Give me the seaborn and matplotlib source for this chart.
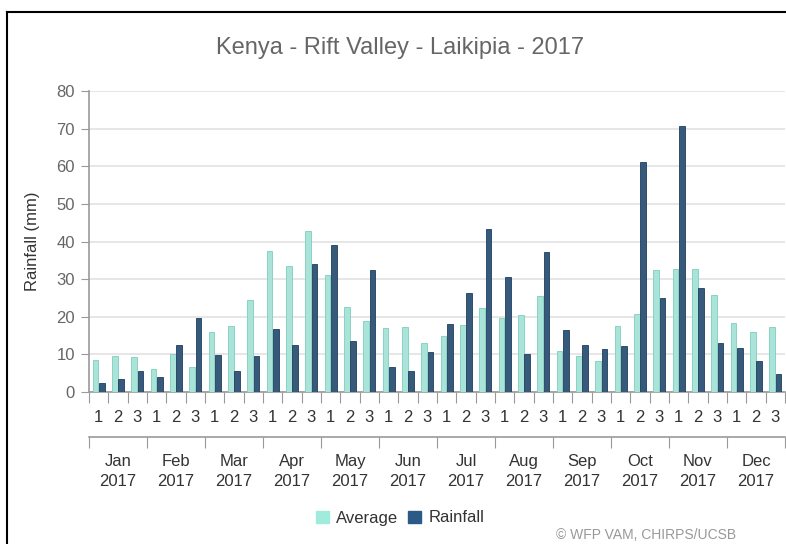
#!/usr/bin/env python
"""
  Laikipia dekadal rainfall vs long-term average, 2017
"""

import matplotlib
matplotlib.use('Agg')
import matplotlib.pyplot as plt
from matplotlib.lines import Line2D
from matplotlib.patches import Patch
import seaborn as sns
import pandas as pd

MONTHS = ["Jan", "Feb", "Mar", "Apr", "May", "Jun",
          "Jul", "Aug", "Sep", "Oct", "Nov", "Dec"]
DEKADS = ["1", "2", "3"]
YEAR = "2017"

# values (mm per dekad)
average = [8.5, 9.6, 9.2, 6.0, 10.1, 6.6, 16.0, 17.6, 24.5, 37.6, 33.5, 42.9,
           31.0, 22.7, 18.8, 17.0, 17.4, 13.1, 14.9, 17.9, 22.2, 19.7, 20.4, 25.6,
           10.8, 9.6, 8.3, 17.6, 20.7, 32.4, 32.6, 32.8, 25.7, 18.3, 16.0, 17.4]
rainfall = [2.5, 3.4, 5.7, 3.9, 12.4, 19.7, 9.8, 5.5, 9.6, 16.8, 12.4, 33.9,
            39.0, 13.5, 32.3, 6.6, 5.7, 10.6, 18.1, 26.4, 43.4, 30.5, 10.2, 37.1,
            16.5, 12.6, 11.5, 12.1, 61.2, 25.0, 70.6, 27.7, 13.1, 11.7, 8.2, 4.8]

AVG_COLOR = "#a0ecdc"
RAIN_COLOR = "#2c5a86"
GREY = "#666666"


def main():
  n = len(average)
  df = pd.DataFrame({
    "slot": list(range(n)) * 2,
    "value": average + rainfall,
    "series": ["Average"] * n + ["Rainfall"] * n,
  })

  plt.rcParams["font.family"] = ["Liberation Sans", "DejaVu Sans"]
  fig = plt.figure(figsize=(7.86, 5.44), dpi=100)
  ax = fig.add_axes([89 / 786, 1 - 392 / 544, 696 / 786, 301 / 544])

  sns.barplot(data=df, x="slot", y="value", hue="series", order=range(n),
              palette={"Average": AVG_COLOR, "Rainfall": RAIN_COLOR},
              width=0.66, gap=0.08, ax=ax, legend=False, zorder=3)
  for p, c in zip(ax.patches, [AVG_COLOR] * n + [RAIN_COLOR] * n):
    p.set_edgecolor("#7ccfbf" if c == AVG_COLOR else "#1d3f60")
    p.set_linewidth(0.6)

  ax.set_xlim(-0.5, n - 0.5)
  ax.set_ylim(0, 80)
  ax.set_yticks(range(0, 81, 10))
  ax.grid(axis="y", color="#e2e2e2", linewidth=1.2, zorder=0)
  ax.set_axisbelow(True)
  for s in ("top", "right"):
    ax.spines[s].set_visible(False)
  for s in ("left", "bottom"):
    ax.spines[s].set_color("#999999")
    ax.spines[s].set_linewidth(1.2)
  ax.tick_params(axis="y", colors="#999999", length=6, labelcolor=GREY,
                 labelsize=12, pad=4)
  ax.set_ylabel("Rainfall (mm)", fontsize=12, color="#333333", labelpad=12)
  ax.set_xlabel("")

  # dekad ticks: marks at the boundaries, labels at the centres
  ax.set_xticks([i - 0.5 for i in range(n + 1)])
  ax.set_xticklabels([])
  ax.set_xticks(range(n), minor=True)
  ax.set_xticklabels(DEKADS * 12, minor=True)
  ax.tick_params(axis="x", which="major", length=8, color="#999999")
  ax.tick_params(axis="x", which="minor", length=0, labelsize=12,
                 labelcolor="#333333", pad=13)

  # month axis below
  sec = ax.secondary_xaxis(-0.15)
  sec.spines["bottom"].set_color("#999999")
  sec.spines["bottom"].set_linewidth(1.2)
  sec.set_xticks([3 * i - 0.5 for i in range(13)])
  sec.set_xticklabels([])
  sec.set_xticks([3 * i + 1 for i in range(12)], minor=True)
  sec.set_xticklabels([f"{m}\n{YEAR}" for m in MONTHS], minor=True,
                      linespacing=1.4)
  sec.tick_params(axis="x", which="major", length=8, color="#999999")
  sec.tick_params(axis="x", which="minor", length=0, labelsize=12,
                  labelcolor="#333333", pad=12)

  fig.text(400 / 786, 1 - 48 / 544, "Kenya - Rift Valley - Laikipia - 2017",
           ha="center", va="center", fontsize=17, color=GREY)

  handles = [Patch(facecolor=AVG_COLOR, edgecolor=AVG_COLOR),
             Patch(facecolor=RAIN_COLOR, edgecolor=RAIN_COLOR)]
  fig.legend(handles, ["Average", "Rainfall"], loc="center",
             bbox_to_anchor=(400 / 786, 1 - 518 / 544), ncol=2, frameon=False,
             fontsize=12, handlelength=0.75, handleheight=0.75,
             handletextpad=0.45, columnspacing=0.6, labelcolor="#333333")

  fig.text(556 / 786, 1 - 542 / 544, "© WFP VAM, CHIRPS/UCSB",
           ha="left", va="bottom", fontsize=10, color="#999999")

  # screenshot frame (left and top edges)
  fig.add_artist(Line2D([7 / 786, 7 / 786], [0, 1 - 12 / 544],
                        transform=fig.transFigure, color="black", lw=1.5))
  fig.add_artist(Line2D([7 / 786, 1], [1 - 12 / 544, 1 - 12 / 544],
                        transform=fig.transFigure, color="black", lw=1.5))

  fig.savefig("out.png", dpi=100)


if __name__ == "__main__":
  main()
